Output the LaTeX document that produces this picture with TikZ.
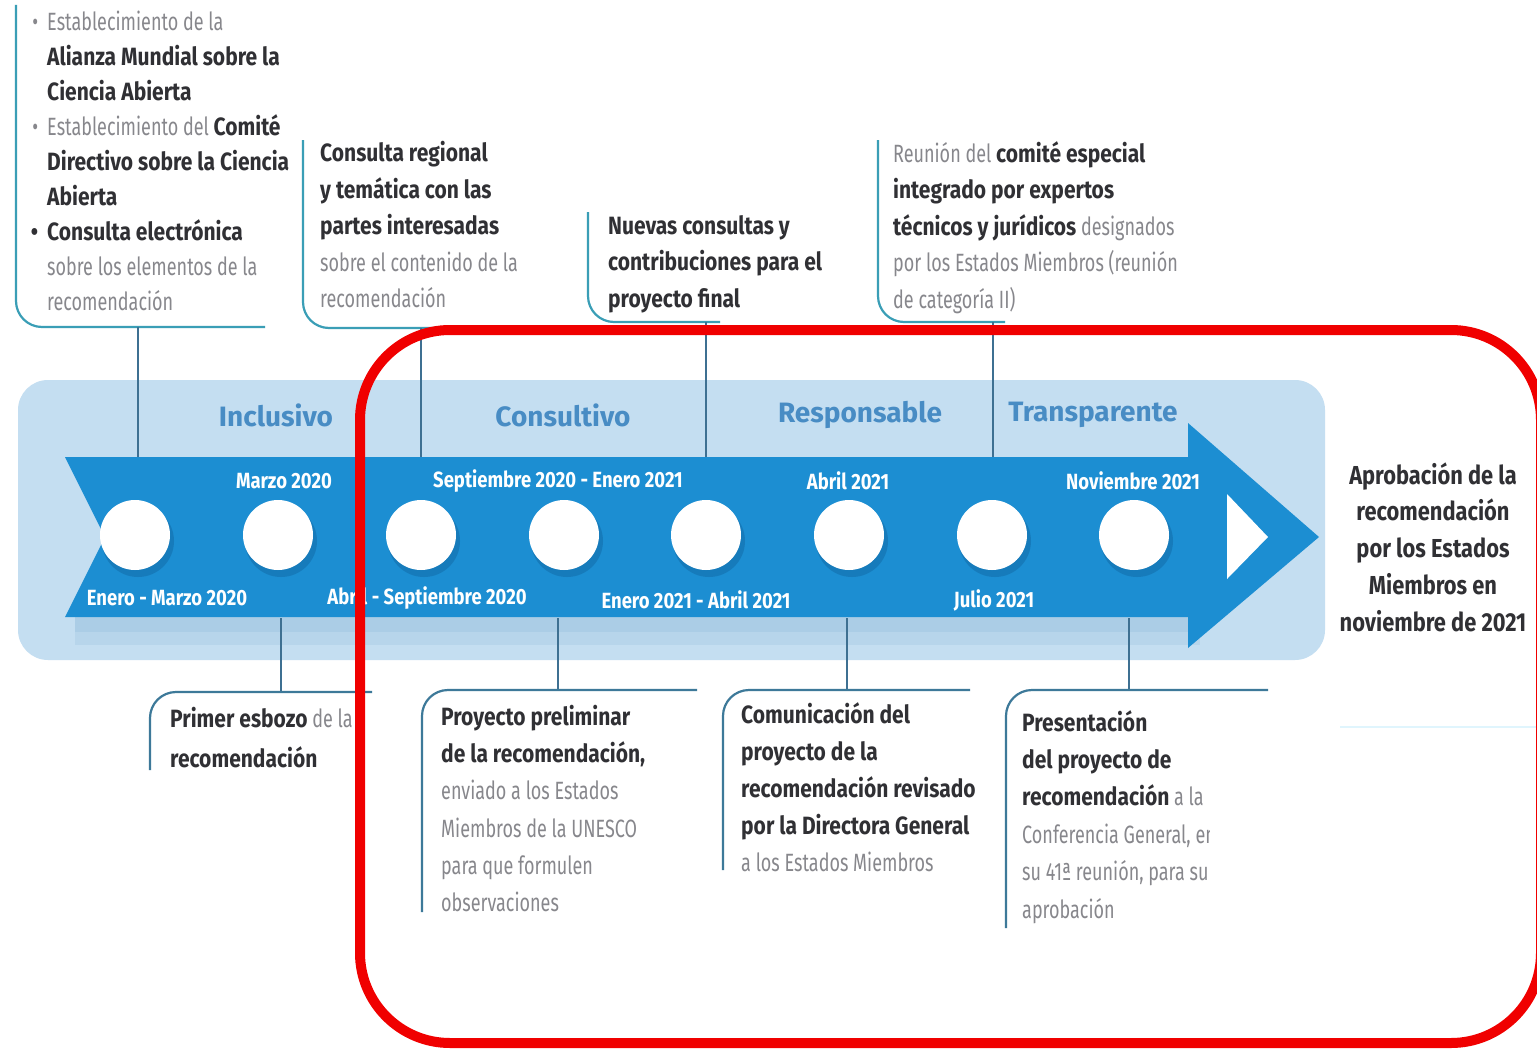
\documentclass[tikz,border=0pt]{standalone}
\usepackage{fontspec}
\setmainfont{Fira Sans}[FakeStretch=0.72,BoldFeatures={FakeStretch=0.84}]
\newfontfamily\panelfont{Fira Sans}
\usetikzlibrary{calc}
\definecolor{arrowblue}{RGB}{28,142,210}
\definecolor{arrowshade}{RGB}{18,105,165}
\definecolor{panelblue}{RGB}{196,222,241}
\definecolor{paneltext}{RGB}{72,140,196}
\definecolor{calloutteal}{RGB}{58,158,182}
\definecolor{stemcol}{RGB}{62,112,146}
\definecolor{darktxt}{RGB}{48,48,52}
\definecolor{lighttxt}{RGB}{135,135,140}
\definecolor{redmark}{RGB}{240,0,0}
\newcommand\SB[1]{{\bfseries\color{darktxt}#1}}
\newcommand\SL[1]{{\color{lighttxt}#1}}
\newcommand\BUL{\llap{\SL{•}\hspace{9pt}}}
\begin{document}
\begin{tikzpicture}[x=1pt,y=-1pt,
  frametop/.style={calloutteal,line width=2.2pt,rounded corners=26pt},
  framebot/.style={stemcol!80!calloutteal,line width=2.2pt,rounded corners=26pt},
  txt/.style={anchor=north west,inner sep=0pt,align=left,font=\fontsize{25}{36.6}\selectfont},
  datelbl/.style={text=white,inner sep=0pt,font=\bfseries\fontsize{22}{26}\selectfont},
  phase/.style={text=paneltext,inner sep=0pt,font=\panelfont\bfseries\fontsize{28}{30}\selectfont},
  dot/.style={circle,fill=white,minimum size=70pt,inner sep=0pt},
  stem/.style={stemcol,line width=1.6pt}]
\useasboundingbox (0,0) rectangle (1537,1049);
\fill[white] (0,0) rectangle (1537,1049);

% panel
\fill[panelblue,rounded corners=30pt] (18,380) rectangle (1325,660);
\fill[arrowshade,opacity=0.07] (75,617) rectangle (1200,645);
\fill[arrowshade,opacity=0.07] (75,617) rectangle (1200,632);

% phase labels
\node[phase] (p1) at (276,415) {Inclusivo};
\node[phase] (p2) at (563,415) {Consultivo};
\node[phase] (p3) at (860,415) {Responsable};
\node[phase] (p4) at (1093,415) {Transparente};

% arrow
\fill[arrowblue] (65,457) -- (1188,457) -- (1188,423) -- (1319,537) -- (1188,648)
  -- (1188,617) -- (65,617) -- (105,537) -- cycle;
\fill[white] (1227,494) -- (1268,537) -- (1227,579) -- cycle;

% circles with shadows
\foreach \i/\x in {1/135,2/278,3/421,4/564,5/706,6/849,7/992,8/1134}{
  \fill[arrowshade,opacity=0.5] (\x+3,541) circle (36pt);
  \node[dot] (c\i) at (\x,535) {};
}

% dates
\node[datelbl] (d1) at (284,481) {Marzo 2020};
\node[datelbl] (d2) at (558,481) {Septiembre 2020 - Enero 2021};
\node[datelbl] (d3) at (848,481) {Abril 2021};
\node[datelbl] (d4) at (1133,481) {Noviembre 2021};
\node[datelbl] (d5) at (167,598) {Enero - Marzo 2020};
\node[datelbl] (d6) at (427,598) {Abril - Septiembre 2020};
\node[datelbl] (d7) at (696,600) {Enero 2021 - Abril 2021};
\node[datelbl] (d8) at (994,600) {Julio 2021};

% top callouts
\draw[frametop] (16,5) -- (16,327) -- (265,327);
\draw[frametop] (303,140) -- (303,328) -- (440,328);
\draw[frametop] (588,212) -- (588,322) -- (720,322);
\draw[frametop] (878,140) -- (878,322) -- (1005,322);

\node[txt,font=\fontsize{25}{35}\selectfont] (t1) at (47,11) {%
\BUL\SL{Establecimiento de la}\\
\SB{Alianza Mundial sobre la}\\
\SB{Ciencia Abierta}\\
\BUL\SL{Establecimiento del} \SB{Comité}\\
\SB{Directivo sobre la Ciencia}\\
\SB{Abierta}\\
\llap{\SB{•}\hspace{9pt}}\SB{Consulta electrónica}\\
\SL{sobre los elementos de la}\\
\SL{recomendación}};

\node[txt] (t2) at (320,141) {%
\SB{Consulta regional}\\
\SB{y temática con las}\\
\SB{partes interesadas}\\
\SL{sobre el contenido de la}\\
\SL{recomendación}};

\node[txt] (t3) at (608,215) {%
\SB{Nuevas consultas y}\\
\SB{contribuciones para el}\\
\SB{proyecto final}};

\node[txt] (t4) at (893,141) {%
\SL{Reunión del} \SB{comité especial}\\
\SB{integrado por expertos}\\
\SB{técnicos y jurídicos} \SL{designados}\\
\SL{por los Estados Miembros (reunión}\\
\SL{de categoría II)}};

% top stems
\coordinate (s1) at (138,327);
\coordinate (s2) at (421,328);
\coordinate (s3) at (706,322);
\coordinate (s4) at (993,322);
\coordinate (a1) at (138,457);
\coordinate (a2) at (421,457);
\coordinate (a3) at (706,457);
\coordinate (a4) at (993,457);
\draw[stem] (s1) -- (a1);
\draw[stem] (s2) -- (a2);
\draw[stem] (s3) -- (a3);
\draw[stem] (s4) -- (a4);

% bottom stems
\coordinate (e1) at (281,618);
\coordinate (e2) at (558,618);
\coordinate (e3) at (847,618);
\coordinate (e4) at (1129,618);
\coordinate (f1) at (281,692);
\coordinate (f2) at (558,690);
\coordinate (f3) at (847,690);
\coordinate (f4) at (1129,690);
\draw[stem] (e1) -- (f1);
\draw[stem] (e2) -- (f2);
\draw[stem] (e3) -- (f3);
\draw[stem] (e4) -- (f4);

% bottom callouts
\draw[framebot] (150,770) -- (150,692) -- (372,692);
\draw[framebot] (422,912) -- (422,690) -- (697,690);
\draw[framebot] (723,870) -- (723,690) -- (970,690);
\draw[framebot] (1006,928) -- (1006,690) -- (1268,690);

\node[txt,font=\fontsize{25}{40}\selectfont] (b1) at (170,707) {%
\SB{Primer esbozo} \SL{de la}\\
\SB{recomendación}};

\node[txt,font=\fontsize{25}{37.2}\selectfont] (b2) at (441,705) {%
\SB{Proyecto preliminar}\\
\SB{de la recomendación,}\\
\SL{enviado a los Estados}\\
\SL{Miembros de la UNESCO}\\
\SL{para que formulen}\\
\SL{observaciones}};

\node[txt,font=\fontsize{25}{37.2}\selectfont] (b3) at (741,702) {%
\SB{Comunicación del}\\
\SB{proyecto de la}\\
\SB{recomendación revisado}\\
\SB{por la Directora General}\\
\SL{a los Estados Miembros}};

\begin{scope}
\clip (1010,700) rectangle (1209,960);
\node[txt,font=\fontsize{25}{37.4}\selectfont] (b4) at (1022,710) {%
\SB{Presentación}\\
\SB{del proyecto de}\\
\SB{recomendación} \SL{a la}\\
\SL{Conferencia General, en}\\
\SL{su 41ª reunión, para su}\\
\SL{aprobación}};
\end{scope}

% final text
\node[align=center,inner sep=0pt,text=darktxt,font=\bfseries\fontsize{26}{36.8}\selectfont] (final) at (1433,547) {%
Aprobación de la\\recomendación\\por los Estados\\Miembros en\\noviembre de 2021};

\draw[cyan!12,line width=1.5pt] (1340,727) -- (1537,727);

% red highlight
\draw[redmark,line width=10pt,rounded corners=90pt] (360,330) rectangle (1541,1043);
\end{tikzpicture}
\end{document}
